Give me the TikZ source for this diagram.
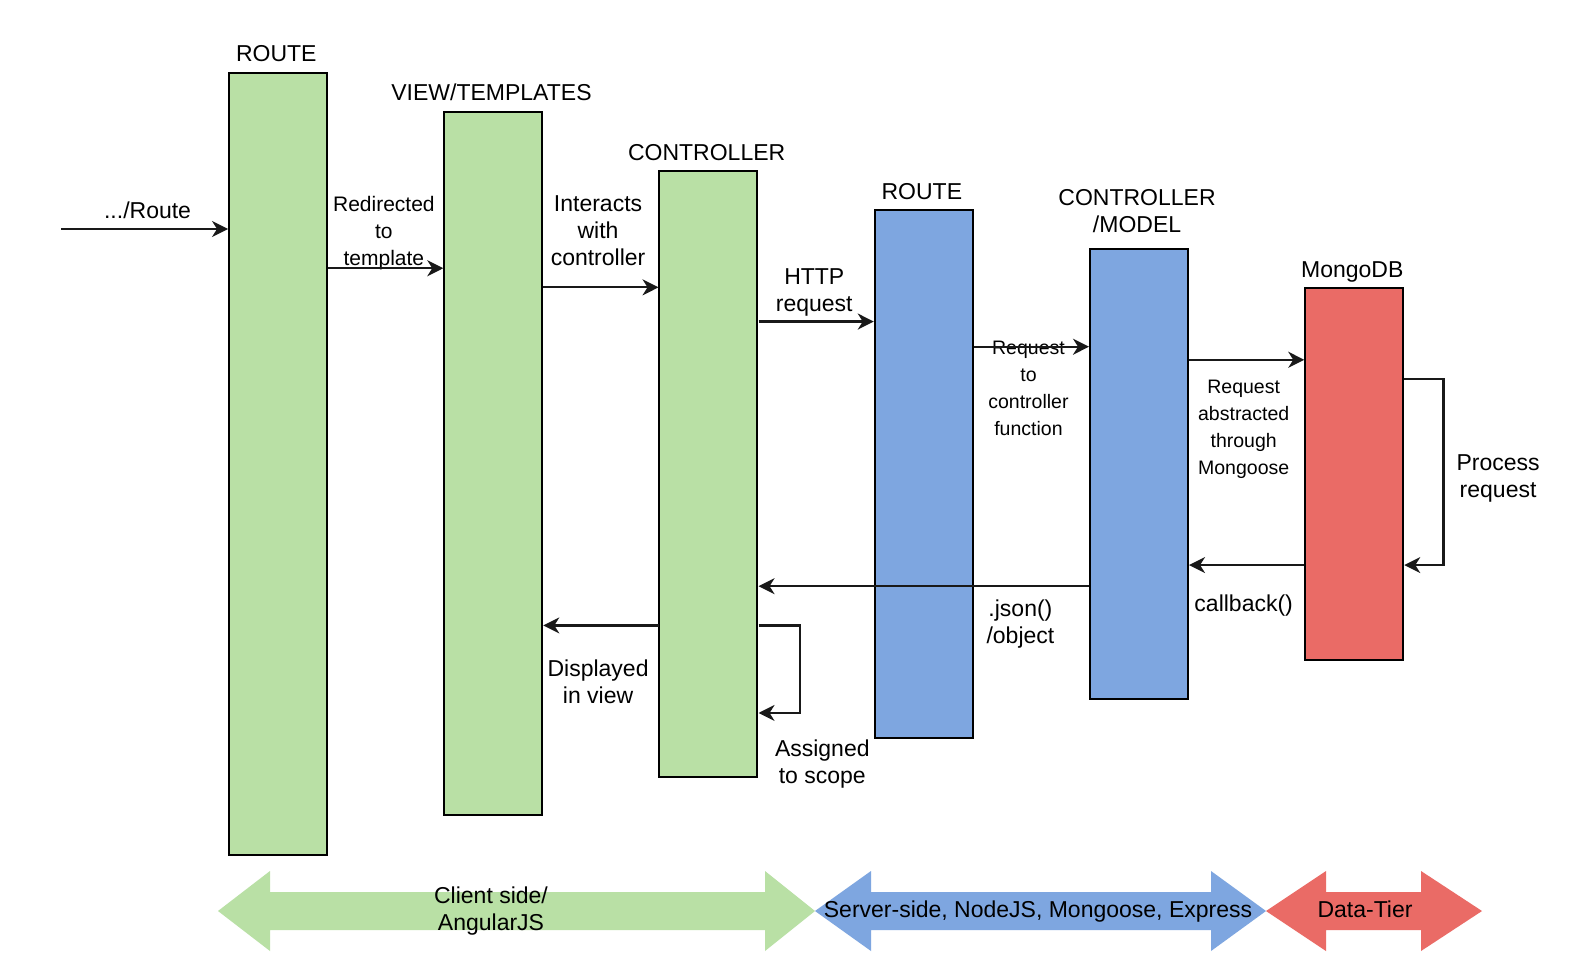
\documentclass[tikz,border=0pt]{standalone}
\usepackage{fontspec}
\setmainfont{Liberation Sans}
\usetikzlibrary{arrows.meta,calc}
\definecolor{gfill}{HTML}{B9E0A5}
\definecolor{bfill}{HTML}{7EA6E0}
\definecolor{rfill}{HTML}{EA6B66}
\begin{document}
\begin{tikzpicture}[x=1bp,y=-1bp,
 blk/.style={draw=black, line width=2bp, minimum width=98bp, inner sep=0, anchor=north west},
 conn/.style={line width=2.2bp, draw=black!90, -{Stealth[length=16bp,width=16bp,inset=5bp]}},
 lbl/.style={font=\fontsize{23bp}{27bp}\selectfont, inner sep=0, align=center, anchor=base},
 sml/.style={font=\fontsize{19.5bp}{27bp}\selectfont, inner sep=0, align=center, anchor=base},
 smr/.style={font=\fontsize{21bp}{27bp}\selectfont, inner sep=0, align=center, anchor=base}]
\useasboundingbox (0,0) rectangle (1576,976);
\fill[white] (0,0) rectangle (1576,976);
\begin{scope}[shift={(228,72)}, xscale=1.0056, yscale=1.006, shift={(-228,-72)}]
% boxes
\node[blk, fill=gfill, minimum height=781.7bp] (r1) at (228,72) {};
\node[blk, fill=gfill, minimum height=703.2bp] (vt) at (442,111) {};
\node[blk, fill=gfill, minimum height=606.6bp] (ct) at (656,169) {};
\node[blk, fill=bfill, minimum height=528.2bp] (r2) at (870,208) {};
\node[blk, fill=bfill, minimum height=449.7bp] (cm) at (1084,247) {};
\node[blk, fill=rfill, minimum height=372.2bp] (db) at (1298,286) {};
% titles
\node[lbl] (t1) at (276,61.5) {ROUTE};
\node[lbl] (t2) at (490,100) {VIEW/TEMPLATES};
\node[lbl] (t3) at (704,160) {CONTROLLER};
\node[lbl] (t4) at (918,198.5) {ROUTE};
\node[lbl] (t5) at (1132,232) {CONTROLLER\\/MODEL};
\node[lbl] (t6) at (1346,276.5) {MongoDB};
% labels
\node[lbl] (l0) at (148,218) {.../Route};
\node[smr] (l1) at (383,264) {Redirected\\to\\template};
\node[lbl] (l2) at (596,264) {Interacts\\with\\controller};
\node[lbl] (l3) at (811,310) {HTTP\\request};
\node[sml] (l4) at (1024,433) {Request\\to\\controller\\function};
\node[sml] (l5) at (1238,472.5) {Request\\abstracted\\through\\Mongoose};
\node[lbl] (l6) at (1491,495) {Process\\request};
\node[lbl] (l7) at (1238,608) {callback()};
\node[lbl] (l8) at (1016,640) {.json()\\/object};
\node[lbl] (l9) at (596,700) {Displayed\\in view};
\node[lbl] (l10) at (819,779) {Assigned\\to scope};
% connector levels
\coordinate (start) at (62,228);
\coordinate (y1) at (0,267);
\coordinate (y2) at (0,286);
\coordinate (y3) at (0,320);
\coordinate (y4) at (0,345);
\coordinate (y5) at (0,358);
\coordinate (y6) at (0,377);
\coordinate (y7) at (0,562);
\coordinate (y8) at (0,583);
\coordinate (y9) at (0,622);
\coordinate (y10) at (0,709);
% connectors
\draw[conn] (start) -- (r1.west |- start);
\draw[conn] (r1.east |- y1) -- (vt.west |- y1);
\draw[conn] (vt.east |- y2) -- (ct.west |- y2);
\draw[conn] (ct.east |- y3) -- (r2.west |- y3);
\draw[conn] (r2.east |- y4) -- (cm.west |- y4);
\draw[conn] (cm.east |- y5) -- (db.west |- y5);
\draw[conn] (db.east |- y6) -- ($(db.east |- y6)+(39,0)$) |- (db.east |- y7);
\draw[conn] (db.west |- y7) -- (cm.east |- y7);
\draw[conn] (cm.west |- y8) -- (ct.east |- y8);
\draw[conn] (ct.west |- y9) -- (vt.east |- y9);
\draw[conn] (ct.east |- y9) -- ($(ct.east |- y9)+(41,0)$) |- (ct.east |- y10);
\end{scope}
% tier arrows
\fill[gfill] (218,911) -- (270,871) -- (270,892) -- (765,892) -- (765,871) -- (815,911) -- (765,951) -- (765,930) -- (270,930) -- (270,951) -- cycle;
\fill[bfill] (815,911) -- (871,871) -- (871,892) -- (1211,892) -- (1211,871) -- (1266,911) -- (1211,951) -- (1211,930) -- (871,930) -- (871,951) -- cycle;
\fill[rfill] (1266,911) -- (1326,871) -- (1326,892) -- (1421,892) -- (1421,871) -- (1482,911) -- (1421,951) -- (1421,930) -- (1326,930) -- (1326,951) -- cycle;
\node[lbl] (b1) at (491,930) {Client side/\\AngularJS};
\node[lbl] (b2) at (1038,917) {Server-side, NodeJS, Mongoose, Express};
\node[lbl] (b3) at (1365,917) {Data-Tier};
\end{tikzpicture}
\end{document}
